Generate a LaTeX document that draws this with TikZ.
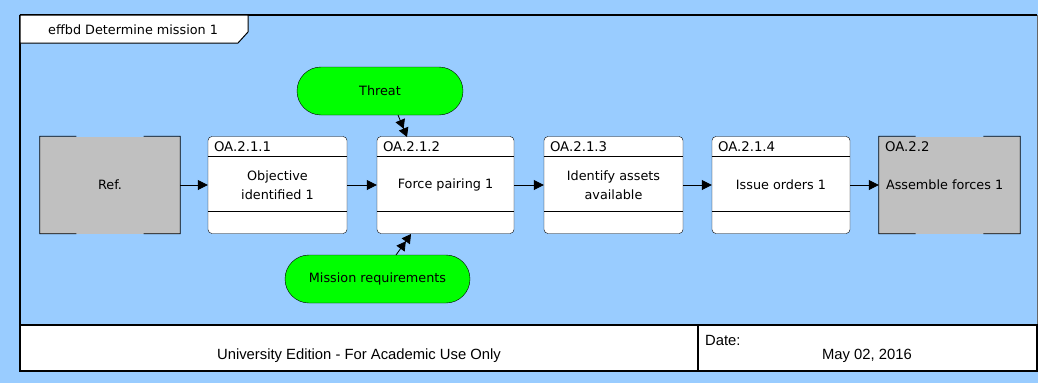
\documentclass[tikz,border=0pt]{standalone}
\usepackage{fontspec}
\setmainfont{DejaVu Sans}
\newfontfamily\footfont{Liberation Sans}
\usetikzlibrary{arrows.meta,calc}
\definecolor{bgblue}{HTML}{99CCFF}
\definecolor{refgray}{HTML}{C0C0C0}
\definecolor{itemgreen}{HTML}{00FF00}
\begin{document}
\begin{tikzpicture}[x=1pt,y=-1pt,
  txt/.style={font=\fontsize{12.8}{19}\selectfont},
  funcbox/.style={draw, fill=white, rounded corners=4pt, minimum height=97pt, inner sep=0pt, align=center, txt},
  refbox/.style={fill=refgray, minimum height=97pt, inner sep=0pt, txt},
  itembox/.style={draw, fill=itemgreen, minimum height=48pt, rounded corners=24pt, inner sep=0pt, txt},
  flow/.style={-{Triangle[length=10pt,width=10pt]}, line width=0.8pt},
  dflow/.style={-{Triangle[length=9pt,width=10pt]Triangle[length=9pt,width=10pt]}, line width=0.8pt},
  hdr/.style={anchor=west, inner sep=0pt, font=\fontsize{13.3}{15.5}\selectfont},
  foot/.style={inner sep=0pt, font=\footfont\fontsize{14.8}{17}\selectfont},
  sep/.style={line width=0.6pt}
]
\useasboundingbox (0,0) rectangle (1038,383);
\fill[bgblue] (0,0) rectangle (1038,383);
% frame
\draw[line width=1.6pt] (20,15) -- (1037,15);
\draw[line width=1.6pt] (20,15) -- (20,371);
\draw[line width=0.8pt, black!60] (1037,15) -- (1037,371);
% title tab
\draw[line width=1pt, fill=white] (20,15) -- (248,15) -- (248,32) -- (238,43) -- (20,43) -- cycle;
\node[anchor=west, inner sep=0pt, font=\fontsize{12.8}{15}\selectfont] (title) at (48,30) {effbd Determine mission 1};
% footer
\draw[line width=1.6pt, fill=white] (20,325) rectangle (1037,371);
\draw[line width=1.2pt] (698,325) -- (698,371);
\node[foot] (edition) at (359,356) {University Edition - For Academic Use Only};
\node[foot, anchor=west] (datelbl) at (705,340) {Date:};
\node[foot] (date) at (867,356) {May 02, 2016};
% reference boxes
\node[refbox, minimum width=140pt] (ref) at (110,185) {Ref.};
\node[refbox, minimum width=141pt] (b5) at (949.5,185) {};
\foreach \n in {ref,b5}{
  \draw[line width=0.8pt] ($(\n.north west)!0.26!(\n.north east)$) -- (\n.north west) -- (\n.south west) -- ($(\n.south west)!0.26!(\n.south east)$);
  \draw[line width=0.8pt] ($(\n.north east)!0.26!(\n.north west)$) -- (\n.north east) -- (\n.south east) -- ($(\n.south east)!0.26!(\n.south west)$);
}
\node[hdr] (b5id) at ([xshift=6pt]b5.west |- 0,147) {OA.2.2};
\node[anchor=west, inner sep=0pt, txt] (b5lbl) at ([xshift=7pt]b5.west) {Assemble forces 1};
% function boxes
\node[funcbox, minimum width=139pt] (b1) at (277.5,185) {Objective\\identified 1};
\node[funcbox, minimum width=137pt] (b2) at (445.5,185) {Force pairing 1};
\node[funcbox, minimum width=139pt] (b3) at (613.5,185) {Identify assets\\available};
\node[funcbox, minimum width=138pt] (b4) at (781,185) {Issue orders 1};
\foreach \n/\id in {b1/OA.2.1.1,b2/OA.2.1.2,b3/OA.2.1.3,b4/OA.2.1.4}{
  \draw[sep] (\n.west |- 0,156) -- (\n.east |- 0,156);
  \draw[sep] (\n.west |- 0,211) -- (\n.east |- 0,211);
  \node[hdr] at ([xshift=6pt]\n.west |- 0,147) {\id};
}
% items
\node[itembox, minimum width=166pt] (threat) at (380,91) {Threat};
\node[itembox, minimum width=185pt] (mission) at (377.5,279) {Mission requirements};
% flows
\draw[flow] (ref.east) -- (b1.west);
\draw[flow] (b1.east) -- (b2.west);
\draw[flow] (b2.east) -- (b3.west);
\draw[flow] (b3.east) -- (b4.west);
\draw[flow] (b4.east) -- (b5.west);
\coordinate (tin) at (407,137);
\coordinate (tout) at (398,115);
\draw[dflow] (tout) -- (tin);
\coordinate (min) at (411,234);
\coordinate (mout) at (396,255);
\draw[dflow] (mout) -- (min);
\end{tikzpicture}
\end{document}
